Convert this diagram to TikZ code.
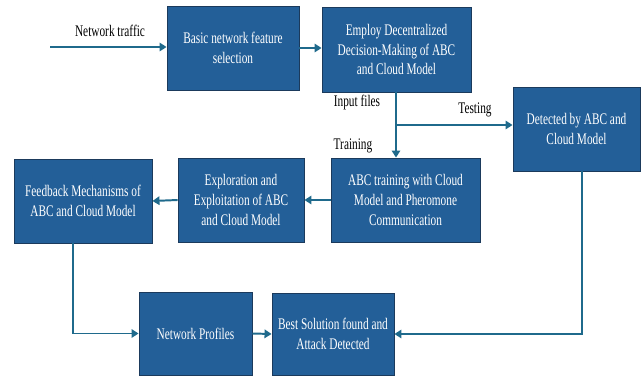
\documentclass[tikz,border=0pt]{standalone}
\usepackage{fontspec}
\setmainfont{Liberation Serif}[FakeStretch=0.7]
\usepackage{tikz}
\usetikzlibrary{arrows.meta}
\definecolor{boxblue}{HTML}{235F98}
\definecolor{boxline}{HTML}{1B3A5C}
\definecolor{flowline}{HTML}{1F6A8C}

\begin{document}
\begin{tikzpicture}[
    stage/.style={draw=boxline,line width=0.6pt,fill=boxblue,text=white,align=center,
        inner sep=0pt,font=\fontsize{11.5}{14}\selectfont},
    flow/.style={draw=flowline,line width=1.4pt,-{Triangle[length=5pt,width=6pt]}},
    tag/.style={font=\fontsize{11.5}{14}\selectfont}
  ]
    \useasboundingbox (0,0) rectangle (16.025,9.4);
    \node[stage,minimum width=3.3cm,minimum height=2.1cm] (B1) at (5.825,8.2) {Basic network feature\\selection};
    \node[stage,minimum width=3.725cm,minimum height=2.125cm] (B2) at (9.9125,8.1625) {Employ Decentralized\\Decision-Making of ABC\\and Cloud Model};
    \node[stage,minimum width=3.725cm,minimum height=2.1cm] (B3) at (10.1375,4.4) {ABC training with Cloud\\Model and Pheromone\\Communication};
    \node[stage,minimum width=3.175cm,minimum height=2.1cm] (B4) at (14.4125,6.175) {Detected by ABC and\\Cloud Model};
    \node[stage,minimum width=3.15cm,minimum height=2.1cm] (B5) at (6.025,4.4) {Exploration and\\Exploitation of ABC\\and Cloud Model};
    \node[stage,minimum width=3.45cm,minimum height=2.1cm] (B6) at (2.075,4.375) {Feedback Mechanisms of\\ABC and Cloud Model};
    \node[stage,minimum width=2.825cm,minimum height=2.075cm] (B7) at (4.8875,1.0625) {Network Profiles};
    \node[stage,minimum width=3.05cm,minimum height=2.05cm] (B8) at (8.325,1.05) {Best Solution found and\\Attack Detected};

    \coordinate (in) at (1.25,8.225);
    \coordinate (split) at (9.9,6.275);

    % top row
    \draw[flow] (in) -- (in -| B1.west);
    \draw[flow] (B1.east) -- (B1.east -| B2.west);
    \draw[flowline,line width=1.4pt] (B2.south -| split) -- (split);
    \draw[flow] (split) -- (split |- B3.north);
    \draw[flow] (split) -- (split -| B4.west);

    % middle row
    \draw[flow] (B3.west) -- (B5.east);
    \draw[flow] (B5.west) -- (B6.east);

    % bottom row
    \draw[flow] ([xshift=-0.25cm]B6.south) |- (B7.west);
    \draw[flow] (B7.east) -- (B8.west);
    \draw[flow] ([xshift=0.14cm]B4.south) |- (B8.east);

    \node[tag] (t1) at (2.75,8.625) {Network traffic};
    \node[tag] (t2) at (8.925,6.825) {Input files};
    \node[tag] (t3) at (11.875,6.65) {Testing};
    \node[tag] (t4) at (8.825,5.75) {Training};
\end{tikzpicture}
\end{document}
